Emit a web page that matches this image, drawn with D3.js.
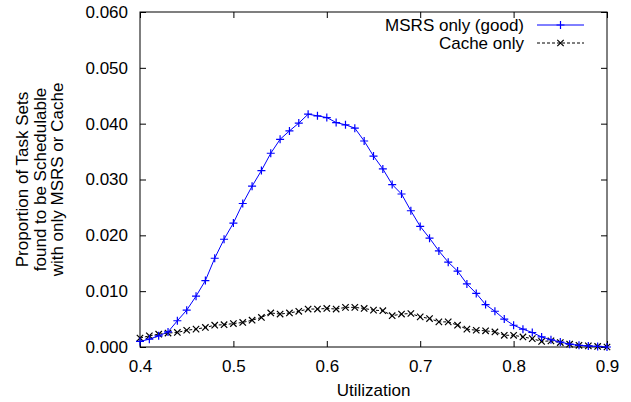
<!DOCTYPE html>
<html>
<head>
<meta charset="utf-8">
<script src="https://cdn.jsdelivr.net/npm/d3@7"></script>
<style>
  body { margin: 0; background: #fff; }
  text { font-family: "Liberation Sans", Arial, sans-serif; }
</style>
</head>
<body>
<script>
// utilization steps 0.40 .. 0.90
var util = d3.range(51).map(function (i) { return +(0.4 + i * 0.01).toFixed(2); });

var msrsOnly = [
  0.0010, 0.0014, 0.0020, 0.0027, 0.0047, 0.0066, 0.0091, 0.0119, 0.0159, 0.0193,
  0.0222, 0.0257, 0.0288, 0.0316, 0.0347, 0.0372, 0.0387, 0.0401, 0.0417, 0.0414,
  0.0411, 0.0402, 0.0398, 0.0392, 0.0369, 0.0342, 0.0319, 0.0291, 0.0274, 0.0244,
  0.0216, 0.0195, 0.0172, 0.0152, 0.0136, 0.0113, 0.0096, 0.0076, 0.0064, 0.0050,
  0.0039, 0.0032, 0.0026, 0.0018, 0.0013, 0.0009, 0.0005, 0.0003, 0.0002, 0.0001,
  0.0000
];

var cacheOnly = [
  0.0016, 0.0020, 0.0023, 0.0025, 0.0026, 0.0030, 0.0032, 0.0035, 0.0039, 0.0040,
  0.0042, 0.0044, 0.0048, 0.0053, 0.0061, 0.0059, 0.0061, 0.0064, 0.0068, 0.0068,
  0.0069, 0.0068, 0.0071, 0.0071, 0.0069, 0.0066, 0.0065, 0.0056, 0.0059, 0.0060,
  0.0054, 0.0051, 0.0045, 0.0045, 0.0039, 0.0032, 0.0030, 0.0029, 0.0027, 0.0021,
  0.0021, 0.0018, 0.0015, 0.0010, 0.0011, 0.0008, 0.0005, 0.0003, 0.0002, 0.0001,
  0.0000
];

var xTicks = [0.4, 0.5, 0.6, 0.7, 0.8, 0.9];
var yTicks = [0, 0.01, 0.02, 0.03, 0.04, 0.05, 0.06];
var yTitle = ["Proportion of Task Sets", "found to be Schedulable", "with only MSRS or Cache"];

function makeChart() {
    var width = 631, height = 402;
    var pl = 140, pr = 607, pt = 12, pb = 347;
    var fs = "17px";

    var svg = d3.select("body").append("svg")
                .attr("width", width)
                .attr("height", height);

    var x = d3.scaleLinear().domain([0.4, 0.9]).range([pl, pr]);
    var y = d3.scaleLinear().domain([0, 0.06]).range([pb, pt]);

    // frame
    svg.append("rect")
       .attr("x", pl).attr("y", pt)
       .attr("width", pr - pl).attr("height", pb - pt)
       .attr("fill", "none").attr("stroke", "#000").attr("stroke-width", 1);

    // ticks on all sides, pointing in (gnuplot mirror)
    var tk = 6;
    function styleAxis(g) {
        g.select(".domain").remove();
        g.selectAll("line").attr("stroke", "#000");
        g.selectAll("text").attr("font-size", fs).attr("fill", "#000")
         .attr("font-family", "Liberation Sans, Arial, sans-serif");
    }

    svg.append("g").attr("transform", "translate(0," + pb + ")")
       .call(d3.axisBottom(x).tickValues(xTicks).tickFormat(d3.format(".1f")).tickSizeInner(-tk).tickPadding(13))
       .call(styleAxis);
    svg.append("g").attr("transform", "translate(0," + pt + ")")
       .call(d3.axisTop(x).tickValues(xTicks).tickFormat("").tickSizeInner(-tk))
       .call(styleAxis);
    svg.append("g").attr("transform", "translate(" + pl + ",0)")
       .call(d3.axisLeft(y).tickValues(yTicks).tickFormat(d3.format(".3f")).tickSizeInner(-tk).tickPadding(12))
       .call(styleAxis);
    svg.append("g").attr("transform", "translate(" + pr + ",0)")
       .call(d3.axisRight(y).tickValues(yTicks).tickFormat("").tickSizeInner(-tk))
       .call(styleAxis);

    // axis titles
    svg.append("text")
       .attr("x", (pl + pr) / 2).attr("y", 396)
       .attr("text-anchor", "middle").attr("font-size", fs)
       .text("Utilization");

    var yt = svg.append("text")
       .attr("transform", "translate(28," + (pt + pb) / 2 + ") rotate(-90)")
       .attr("text-anchor", "middle").attr("font-size", fs);
    yTitle.forEach(function (t, i) {
        yt.append("tspan").attr("x", 0).attr("dy", i == 0 ? 0 : 17.5).text(t);
    });

    var series = [
        { name: "MSRS only (good)", values: msrsOnly, color: "#0000ff", dash: null, mark: "plus" },
        { name: "Cache only", values: cacheOnly, color: "#000000", dash: "3,2", mark: "cross" }
    ];

    var line = d3.line()
        .x(function (d, i) { return x(util[i]); })
        .y(function (d) { return y(d); });

    function markerPath(kind, cx, cy) {
        var s = 4;
        if (kind == "plus")
            return "M" + (cx - s) + "," + cy + "H" + (cx + s) + "M" + cx + "," + (cy - s) + "V" + (cy + s);
        var c = 3.2;
        return "M" + (cx - c) + "," + (cy - c) + "L" + (cx + c) + "," + (cy + c) +
               "M" + (cx - c) + "," + (cy + c) + "L" + (cx + c) + "," + (cy - c);
    }

    // cache first, MSRS on top
    series.slice().reverse().forEach(function (s) {
        var g = svg.append("g");
        g.append("path")
         .attr("d", line(s.values))
         .attr("fill", "none")
         .attr("stroke", s.color)
         .attr("stroke-width", 1)
         .attr("stroke-dasharray", s.dash);
        g.selectAll("path.m").data(s.values)
         .enter()
         .append("path")
         .attr("class", "m")
         .attr("d", function (d, i) { return markerPath(s.mark, x(util[i]), y(d)); })
         .attr("stroke", s.color)
         .attr("stroke-width", 1.2)
         .attr("fill", "none");
    });

    // legend
    series.forEach(function (s, i) {
        var ly = 25 + i * 18;
        svg.append("text")
           .attr("x", 524).attr("y", ly + 6)
           .attr("text-anchor", "end").attr("font-size", fs)
           .text(s.name);
        svg.append("line")
           .attr("x1", 537).attr("x2", 584).attr("y1", ly).attr("y2", ly)
           .attr("stroke", s.color).attr("stroke-width", 1)
           .attr("stroke-dasharray", s.dash);
        svg.append("path")
           .attr("d", markerPath(s.mark, 560.5, ly))
           .attr("stroke", s.color).attr("stroke-width", 1.2).attr("fill", "none");
    });
}
makeChart();
</script>
</body>
</html>
